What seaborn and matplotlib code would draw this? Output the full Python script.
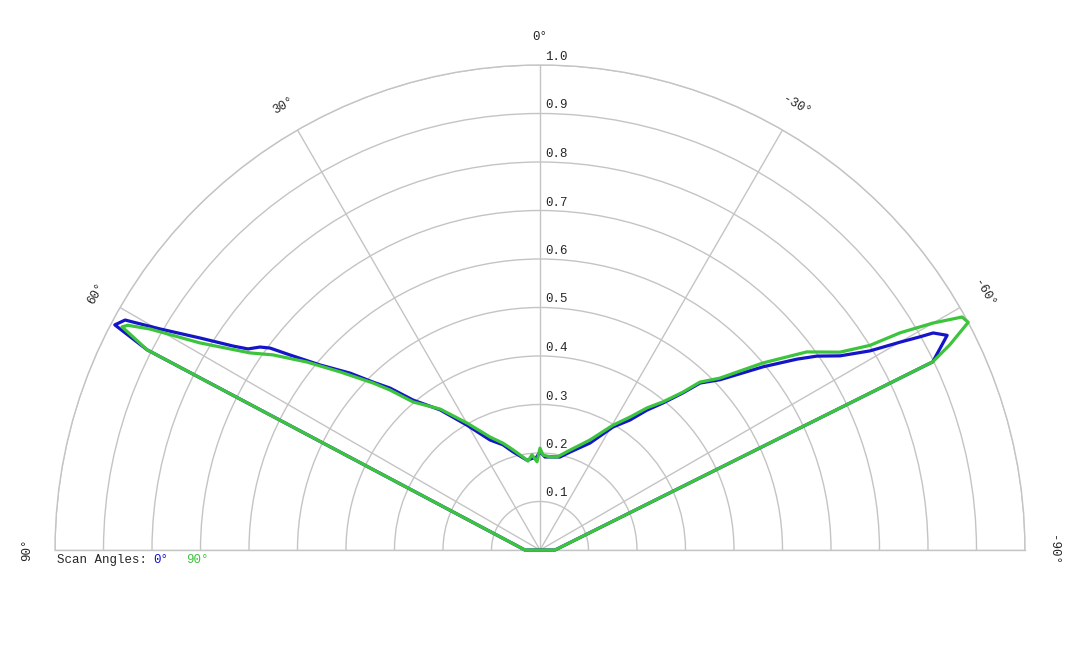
import matplotlib.pyplot as plt
import matplotlib.transforms as mtransforms
import numpy as np
import pandas as pd
import seaborn as sns

# polar pattern, angles in degrees (0 at top, positive to the left)
# each trace is a closed loop: it ends where it started (90°)
blue_theta = [90, 63.0, 62.1, 61.0, 59.8, 58.05, 56.4, 55.45, 54.06, 53.2, 52.05,
              49.94, 47.03, 44.83, 42.8, 40.25, 35.5, 30.3, 24.4, 19.4, 15.4, 8.2,
              4.35, 2.5, 0, -3.1, -6.1, -12.1, -17.0, -25.05, -30.7, -34.7, -37.4,
              -39.9, -42.3, -43.8, -46.6, -50.6, -53.4, -55.0, -57.1, -58.9, -60.0,
              -60.7, -61.1, -62.2, -64.4, -90, 90]
blue_r = [0.031, 0.909, 0.992, 0.978, 0.906, 0.826, 0.760, 0.731, 0.713, 0.695, 0.654,
          0.593, 0.535, 0.488, 0.455, 0.405, 0.355, 0.298, 0.249, 0.230, 0.210, 0.187,
          0.190, 0.190, 0.202, 0.192, 0.193, 0.196, 0.211, 0.2435, 0.295, 0.326, 0.363,
          0.395, 0.438, 0.477, 0.511, 0.595, 0.660, 0.697, 0.737, 0.795, 0.857,
          0.898, 0.926, 0.949, 0.898, 0.031, 0.031]

green_theta = [90, 63.0, 61.9, 61.4, 60.46, 58.66, 55.8, 53.85, 51.1, 48.3, 45.0,
               43.15, 40.6, 35.3, 29.9, 23.9, 19.1, 15.1, 10.4, 7.7, 4.8, 1.95, 0,
               -1.8, -6.1, -10.4, -16.7, -24.4, -30.3, -34.1, -37.0, -39.7, -42.15,
               -43.6, -46.3, -50.0, -53.4, -56.6, -58.2, -58.9, -60.0, -61.1, -62.0,
               -63.4, -64.4, -90, 90]
green_r = [0.031, 0.909, 0.977, 0.968, 0.924, 0.821, 0.723, 0.682, 0.617, 0.552, 0.487,
           0.452, 0.402, 0.356, 0.302, 0.255, 0.233, 0.214, 0.195, 0.185, 0.197, 0.182, 0.210,
           0.196, 0.193, 0.195, 0.215, 0.249, 0.298, 0.331, 0.367, 0.397, 0.439,
           0.478, 0.513, 0.600, 0.685, 0.741, 0.801, 0.867, 0.936, 0.994, 1.0,
           0.945, 0.898, 0.031, 0.031]

series_names = ['0°', '90°']
series_colors = ['#1414c8', '#3cc43c']
r_ticks = [0.1, 0.2, 0.3, 0.4, 0.5, 0.6, 0.7, 0.8, 0.9, 1.0]
theta_ticks = [90, 60, 30, 0, -30, -60, -90]

sns.set_style('white')
plt.rcParams['font.family'] = ['Liberation Mono', 'DejaVu Sans Mono']

df = pd.concat([
    pd.DataFrame({'theta': np.deg2rad(blue_theta), 'r': blue_r, 'scan': series_names[0]}),
    pd.DataFrame({'theta': np.deg2rad(green_theta), 'r': green_r, 'scan': series_names[1]}),
], ignore_index=True)

W, H = 1080, 648
cx, cy, R = 540, 550, 485  # pixel centre and radius of the half disc
fig = plt.figure(figsize=(W / 100, H / 100), dpi=100)
# the half wedge is padded to a square of side 2R, origin at 1/4 height
side = 2 * R
bottom_px = cy + R / 2
ax = fig.add_axes([(cx - R) / W, (H - bottom_px) / H, side / W, side / H], projection='polar')
ax.set_theta_zero_location('N')
ax.set_theta_direction(1)
ax.set_thetamin(-90)
ax.set_thetamax(90)

sns.lineplot(data=df, x='theta', y='r', hue='scan', hue_order=series_names,
             palette=dict(zip(series_names, series_colors)), sort=False,
             estimator=None, linewidth=2.3, legend=False, ax=ax)
for line in ax.lines:
    line.set_clip_on(False)

ax.set_ylim(0, 1)
ax.set_rticks(r_ticks)
ax.set_yticklabels([])
ax.set_thetagrids(theta_ticks, labels=[''] * len(theta_ticks))
ax.grid(True, color='#c4c4c4', linewidth=1)
for sp in ax.spines.values():
    sp.set_color('#c4c4c4')
    sp.set_linewidth(1)
    sp.set_zorder(0.5)
ax.set_xlabel('')
ax.set_ylabel('')
ax.tick_params(pad=0, length=0)

# radial labels just right of the 0° spoke
off = mtransforms.offset_copy(ax.transData, fig=fig, x=5, y=2, units='dots')
for r in r_ticks:
    ax.text(0, r, f'{r:.1f}', transform=off, ha='left', va='bottom', fontsize=9)

# angle labels around the outside
for a in theta_ticks:
    ax.text(np.deg2rad(a), 1.057, f'{a}°', rotation=a, rotation_mode='anchor',
            ha='center', va='center', fontsize=9)

y_leg = 1 - 560 / H
fig.text(57 / W, y_leg, 'Scan Angles:', va='center', fontsize=9)
fig.text(153 / W, y_leg, series_names[0], va='center', fontsize=9, color=series_colors[0])
fig.text(186 / W, y_leg, series_names[1], va='center', fontsize=9, color=series_colors[1])

fig.savefig('out.png', dpi=100, facecolor='white')
